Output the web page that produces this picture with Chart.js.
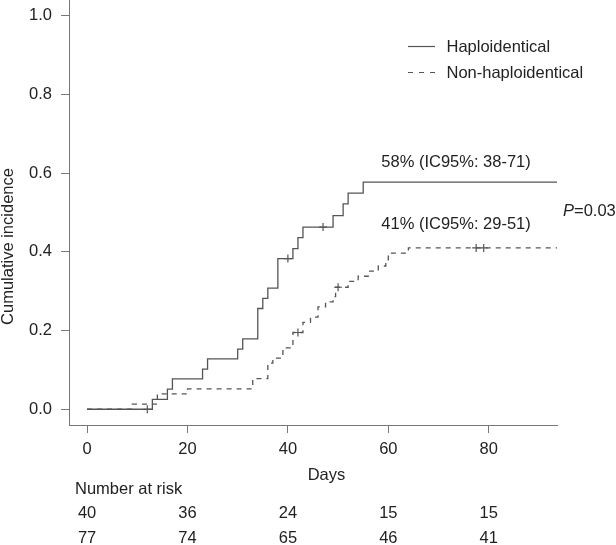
<!DOCTYPE html>
<html>
<head>
<meta charset="utf-8">
<script src="https://cdn.jsdelivr.net/npm/chart.js@4.4.1/dist/chart.umd.min.js"></script>
<style>
  html, body { margin: 0; padding: 0; background: #fff; }
  canvas { display: block; }
</style>
</head>
<body>
<canvas id="kmChart" width="616" height="545"></canvas>
<script>
// cumulative incidence, step up at each listed day
const haploDays = [0, 13, 16, 17, 23, 24, 30, 31, 34, 35, 36, 38, 41, 42, 43, 49, 51, 52, 55];
const haploCI = [0, 0.025, 0.051, 0.077, 0.102, 0.128, 0.153, 0.179, 0.256, 0.282, 0.308, 0.383, 0.408, 0.436, 0.463, 0.492, 0.522, 0.549, 0.577];
const haploCensorDays = [12, 40, 47];
const haploCensorCI = [0, 0.383, 0.463];

const nonHaploDays = [0, 9, 14, 20, 33, 36, 37, 39, 41, 43, 44.5, 46, 47.5, 49, 49.5, 52, 54, 56, 58, 59.5, 60, 64];
const nonHaploCI = [0, 0.013, 0.039, 0.052, 0.078, 0.117, 0.13, 0.156, 0.195, 0.221, 0.234, 0.26, 0.273, 0.286, 0.31, 0.325, 0.338, 0.351, 0.364, 0.374, 0.397, 0.41];
const nonHaploCensorDays = [42, 50, 77.5, 79];
const nonHaploCensorCI = [0.195, 0.31, 0.41, 0.41];

const xTicks = [0, 20, 40, 60, 80];
const yTicks = [0, 0.2, 0.4, 0.6, 0.8, 1.0];

const riskDays = [0, 20, 40, 60, 80];
const riskHaplo = [40, 36, 24, 15, 15];
const riskNonHaplo = [77, 74, 65, 46, 41];

const seriesNames = ['Haploidentical', 'Non-haploidentical'];
const haploLabel = '58% (IC95%: 38-71)';
const nonHaploLabel = '41% (IC95%: 29-51)';

const X_MIN = -3.6, X_MAX = 93.6;
const LINE = '#555';
const TEXT = '#222';
const FONT = '16.5px "Liberation Sans", Arial, sans-serif';

function steps(days, vals) {
    const pts = days.map((d, i) => ({ x: d, y: vals[i] }));
    pts.push({ x: X_MAX, y: vals[vals.length - 1] });
    return pts;
}
function points(days, vals) {
    return days.map((d, i) => ({ x: d, y: vals[i] }));
}

const extraText = {
    id: 'extraText',
    afterDraw(chart) {
        const ctx = chart.ctx;
        const xs = chart.scales.x, ys = chart.scales.y;
        ctx.save();
        ctx.fillStyle = TEXT;
        ctx.font = FONT;
        ctx.textBaseline = 'middle';

        // legend
        ctx.strokeStyle = LINE;
        ctx.lineWidth = 1.2;
        ctx.beginPath();
        ctx.moveTo(408, 46.5); ctx.lineTo(435, 46.5);
        ctx.stroke();
        ctx.setLineDash([5, 6]);
        ctx.beginPath();
        ctx.moveTo(408, 72.5); ctx.lineTo(438, 72.5);
        ctx.stroke();
        ctx.setLineDash([]);
        ctx.textAlign = 'left';
        ctx.fillText(seriesNames[0], 446.5, 47);
        ctx.fillText(seriesNames[1], 446.5, 73);

        // curve labels
        ctx.fillText(haploLabel, xs.getPixelForValue(58.6), ys.getPixelForValue(0.626));
        ctx.fillText(nonHaploLabel, xs.getPixelForValue(58.6), ys.getPixelForValue(0.469));
        const px = xs.getPixelForValue(94.8), py = ys.getPixelForValue(0.502);
        ctx.font = 'italic ' + FONT;
        ctx.fillText('P', px, py);
        const pw = ctx.measureText('P').width;
        ctx.font = FONT;
        ctx.fillText('=0.03', px + pw, py);

        // axis titles
        ctx.textAlign = 'center';
        ctx.fillText('Days', 326.5, 475);
        ctx.save();
        ctx.translate(8.5, 246.5);
        ctx.rotate(-Math.PI / 2);
        ctx.fillText('Cumulative incidence', 0, 0);
        ctx.restore();

        // number at risk
        ctx.textAlign = 'left';
        ctx.fillText('Number at risk', 75, 489);
        ctx.textAlign = 'center';
        riskDays.forEach((d, i) => {
            const x = xs.getPixelForValue(d);
            ctx.fillText(String(riskHaplo[i]), x, 513);
            ctx.fillText(String(riskNonHaplo[i]), x, 538);
        });
        ctx.restore();
    }
};

new Chart(document.getElementById('kmChart').getContext('2d'), {
    type: 'line',
    data: {
        datasets: [
            {
                label: seriesNames[0],
                data: steps(haploDays, haploCI),
                stepped: true,
                borderColor: LINE,
                borderWidth: 1.3,
                pointRadius: 0,
                fill: false
            },
            {
                label: seriesNames[1],
                data: steps(nonHaploDays, nonHaploCI),
                stepped: true,
                borderColor: LINE,
                borderWidth: 1.3,
                borderDash: [5, 5],
                pointRadius: 0,
                fill: false
            },
            {
                label: 'censored 1',
                data: points(haploCensorDays, haploCensorCI),
                showLine: false,
                pointStyle: 'cross',
                pointRadius: 4,
                pointBorderWidth: 1.2,
                pointBorderColor: LINE
            },
            {
                label: 'censored 2',
                data: points(nonHaploCensorDays, nonHaploCensorCI),
                showLine: false,
                pointStyle: 'cross',
                pointRadius: 4,
                pointBorderWidth: 1.2,
                pointBorderColor: LINE
            }
        ]
    },
    options: {
        responsive: false,
        animation: false,
        devicePixelRatio: 1,
        layout: { autoPadding: false, padding: { left: 0, right: 59, top: 0, bottom: 0 } },
        plugins: { legend: { display: false }, tooltip: { enabled: false } },
        scales: {
            x: {
                type: 'linear',
                min: X_MIN,
                max: X_MAX,
                afterBuildTicks: s => { s.ticks = xTicks.map(v => ({ value: v })); },
                afterFit: s => { s.height = 120; s.paddingLeft = 0; s.paddingRight = 0; },
                ticks: { color: TEXT, font: { family: '"Liberation Sans", Arial, sans-serif', size: 16.5 }, padding: 7, maxRotation: 0 },
                grid: { drawOnChartArea: false, tickLength: 8, color: '#777', tickWidth: 1 },
                border: { color: '#777', width: 1 }
            },
            y: {
                min: -0.04,
                max: 1.04,
                afterBuildTicks: s => { s.ticks = yTicks.map(v => ({ value: v })); },
                afterFit: s => { s.width = 69; s.paddingTop = 0; s.paddingBottom = 0; },
                ticks: { color: TEXT, font: { family: '"Liberation Sans", Arial, sans-serif', size: 16.5 }, padding: 9, callback: v => v.toFixed(1) },
                grid: { drawOnChartArea: false, tickLength: 8, color: '#777', tickWidth: 1 },
                border: { color: '#777', width: 1 }
            }
        }
    },
    plugins: [extraText]
});
</script>
</body>
</html>
